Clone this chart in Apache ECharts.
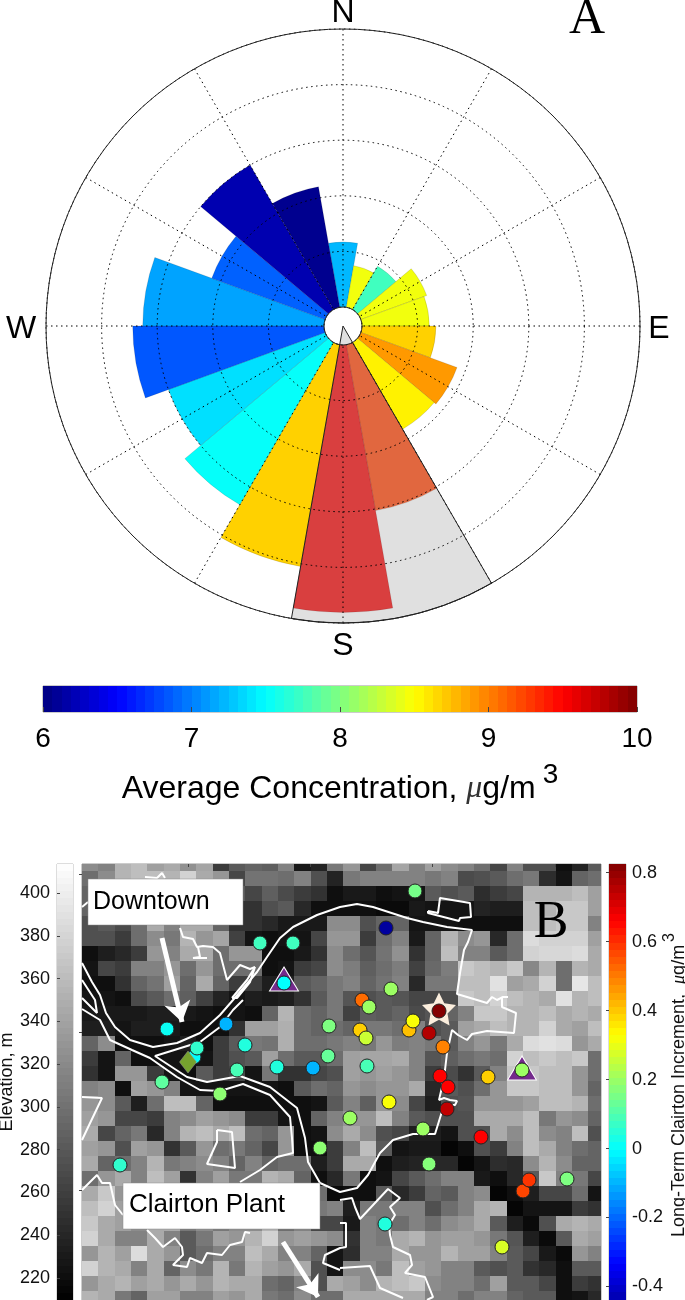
<!DOCTYPE html>
<html>
<head>
<meta charset="utf-8">
<title>Clairton wind rose and map</title>
<script src="https://cdn.jsdelivr.net/npm/echarts@6/dist/echarts.min.js"></script>
<style>
html, body { margin: 0; padding: 0; background: #fff; }
#chart { width: 685px; height: 1300px; }
</style>
</head>
<body>
<div id="chart"></div>
<script>
// panel A: one wedge every 20 degrees, clockwise from north
var wedgeDirections = [0, 20, 40, 60, 80, 100, 120, 140, 160, 180, 200, 220, 240, 260, 280, 300, 320, 340];
var wedgeRadius = [1.17, 0.76, 0.9, 1.26, 1.21, 1.33, 1.84, 1.8, 3.03, 4.81, 4.05, 3.37, 3.0, 3.44, 3.26, 2.17, 3.0, 2.2];
var wedgeConcentration = [7.22, 8.45, 7.75, 8.45, 8.45, 8.68, 8.9, 8.55, 9.25, 9.55, 8.68, 7.52, 7.38, 6.84, 7.14, 6.88, 6.19, 6.06];
var wedgesOverPlantSector = [160, 180];
var plantSector = [40, 320]; // degrees: plant direction, everything else

// panel B: elevation in m, per map cell, rows from the north
var elevationRows = [
    [322,314,354,362,338,346,326,342,258,282,290,286,314,230,238,306,330,266,298,342,314,338,322,314,298,266,314,274,274,222,238,282],
    [298,322,354,362,362,354,378,346,330,266,302,302,298,314,274,238,306,314,314,314,314,306,314,270,274,282,298,306,246,226,290,298],
    [290,322,330,338,330,330,330,330,306,282,266,286,270,258,250,222,230,230,222,226,226,282,274,282,246,258,266,354,354,354,362,338],
    [290,314,314,314,322,330,330,322,298,250,250,274,282,242,222,222,222,222,218,218,230,226,226,226,238,234,234,362,354,370,370,338],
    [274,282,270,298,346,314,346,346,290,250,250,242,230,230,230,322,322,274,290,290,226,226,226,222,222,222,222,362,362,370,370,314],
    [274,274,258,298,322,306,354,330,342,262,226,222,226,226,266,330,330,258,298,314,230,290,354,322,330,242,298,386,378,378,378,338],
    [222,234,242,258,330,314,346,346,298,330,330,222,222,230,250,322,298,278,302,326,250,290,362,314,314,282,298,378,382,382,386,346],
    [226,266,258,314,314,330,298,330,298,298,298,222,226,258,266,322,310,286,298,310,262,294,310,370,362,354,370,318,354,298,354,346],
    [222,222,250,290,302,338,290,346,290,258,258,234,234,282,290,306,314,290,302,314,242,306,306,362,362,390,338,346,378,298,394,362],
    [226,226,222,270,282,298,286,262,238,226,234,230,234,250,282,306,278,274,282,278,266,266,270,370,362,378,362,354,346,390,354,362],
    [230,230,230,230,234,234,230,226,222,226,222,290,354,298,290,306,262,286,282,290,270,278,290,314,370,370,354,354,362,346,354,346],
    [234,234,226,234,234,230,222,222,222,250,338,338,350,298,290,298,290,306,306,298,314,274,282,338,346,362,354,354,378,346,338,362],
    [290,322,222,222,222,226,234,222,258,282,306,302,350,298,298,306,314,306,330,310,314,306,282,314,330,306,346,386,390,386,330,346],
    [258,226,290,222,222,226,226,226,258,274,282,338,298,282,282,298,338,342,342,346,314,278,286,298,306,298,378,362,370,362,370,298],
    [250,226,330,330,258,226,222,282,258,266,226,306,250,250,266,274,338,330,338,330,314,258,270,250,282,314,370,370,362,362,330,298],
    [314,322,222,338,330,314,226,226,226,226,226,226,222,282,298,290,330,322,330,330,346,242,282,274,298,330,370,370,362,362,330,290],
    [330,322,282,234,298,362,362,290,222,222,222,222,222,222,226,282,314,286,330,322,266,234,274,278,330,330,330,338,362,362,354,298],
    [338,330,266,266,258,314,322,338,330,322,258,258,226,222,290,314,330,330,362,314,282,274,274,274,346,346,346,362,306,330,322,290],
    [346,266,290,306,242,314,354,362,346,362,298,290,330,222,226,322,346,322,274,266,234,234,226,274,274,346,322,362,322,314,362,274],
    [338,330,274,338,330,250,282,330,298,306,290,266,330,222,222,258,314,362,282,226,230,230,214,222,274,258,314,362,346,314,298,290],
    [346,290,298,314,354,306,314,322,314,290,314,290,298,298,234,258,346,346,222,234,238,242,242,214,226,246,242,322,354,322,290,290],
    [298,330,346,314,362,338,250,314,338,306,306,354,346,290,222,242,306,222,226,266,282,298,314,314,230,222,242,282,370,314,306,266],
    [346,370,330,354,330,330,330,330,306,306,306,306,330,330,298,218,222,222,282,242,258,290,282,314,322,214,222,234,266,266,298,226],
    [362,378,338,330,346,322,338,314,322,330,306,354,314,314,306,314,234,306,306,314,314,274,298,314,346,354,214,226,226,226,258,250],
    [370,346,338,322,346,346,306,322,306,322,322,354,298,314,266,266,230,314,306,298,314,298,322,330,346,282,234,218,274,346,354,346],
    [378,346,314,314,346,314,282,306,338,330,354,378,330,338,330,322,250,314,306,346,354,330,338,338,330,306,278,234,218,282,346,338],
    [330,354,338,386,346,330,282,298,314,314,362,346,314,314,290,226,246,314,314,346,330,330,354,338,338,314,282,266,230,218,330,314],
    [378,354,346,314,346,290,322,306,354,306,354,338,330,346,274,226,322,322,306,362,338,330,314,314,282,274,282,250,242,222,282,282],
    [330,346,354,338,346,330,346,330,354,346,346,298,290,314,274,346,338,322,354,362,370,322,314,314,298,338,282,282,266,222,258,250],
    [354,346,306,290,338,338,314,314,338,330,346,306,298,322,298,298,346,346,346,346,346,314,314,298,314,314,290,282,282,222,226,242]
];

// monitoring sites: map x, map y (from the north-west corner), increment in ug/m3
var sites = [
    [178,79,0.08],[211,79,0.08],[202,119,0.0],[85,165,0.01],[144,160,-0.1],[247,162,0.16],[163,181,0.04],
    [112,193,0.0],[115,184,0.06],[246,192,0.13],[155,206,0.09],[195,203,0.04],[231,204,-0.1],[80,218,0.12],
    [138,230,0.18],[238,284,0.18],[38,301,0.06],[333,27,0.15],[304,64,-0.46],[309,125,0.2],[280,136,0.52],
    [287,143,0.2],[278,166,0.39],[284,174,0.26],[327,166,0.41],[331,157,0.32],[357,147,0.82],[347,169,0.76],
    [361,183,0.49],[285,202,0.09],[358,212,0.66],[406,213,0.39],[440,206,0.2],[366,223,0.66],[307,238,0.32],
    [365,245,0.74],[268,254,0.2],[341,265,0.2],[399,273,0.66],[347,300,0.17],[441,327,0.57],[447,316,0.59],
    [485,315,0.16],[303,360,0.04],[420,383,0.28]
];
var triangleSites = [[202,115],[440,204]];
var starSite = [[357,145]];
var diamondSite = [[106,198]];

// rivers and borough boundaries, map x / map y
var riverNorth = [[0,99],[10,118],[18,131],[24,149],[33,163],[48,176],[71,183],[95,179],[118,169],[138,151],[151,136],[175,108],[185,93],[198,74],[211,63],[235,51],[258,43],[275,40],[291,43],[325,54],[341,58],[365,63],[390,66],[386,78],[382,86],[378,109],[375,130],[405,139],[410,133],[415,136],[421,133],[426,133]];
var eastBoundary = [[420,134],[420,143],[434,149],[432,169],[405,167],[390,170],[385,176],[376,171],[370,166],[365,189],[363,206],[360,223],[357,236],[362,234],[368,236],[375,237],[373,241],[362,241],[353,270],[331,270],[311,276],[298,289],[286,311],[275,324],[258,328],[238,319],[226,298],[223,274],[215,244],[188,223],[158,212],[125,218],[105,213],[73,192],[118,178],[138,163],[151,146],[161,136]];
var riverSouth = [[0,145],[18,156],[28,176],[50,186],[68,194],[95,213],[118,226],[138,227],[161,220],[188,231],[208,253],[210,274],[211,289],[195,293],[178,306],[158,318]];
var riverIsland = [[0,116],[13,136],[15,149],[0,134]];
var riverLens = [[150,134],[165,116],[173,103],[168,118],[155,134],[150,134]];
var downtownEdge = [[98,64],[101,73],[111,75],[115,83],[121,82],[131,83],[138,89],[145,116],[158,101],[168,105],[173,103]];
var downtownBox = [[116,83],[118,93],[111,94],[125,94]];
var downtownTop = [[63,13],[75,14],[80,9],[83,14]];
var downtownLeft = [[0,43],[6,38]];
var northEastBlock = [[346,47],[356,49],[358,34],[388,39],[389,53],[378,54],[377,57],[346,49],[346,47]];
var westBlock = [[0,233],[20,234],[0,276]];
var middleBlock = [[135,266],[150,268],[153,304],[125,300],[135,278],[135,266]];
var plantWest = [[0,326],[15,311],[20,319],[28,319],[33,341],[41,351]];
var plantSouth = [[65,366],[73,374],[81,383],[93,374],[100,383],[101,391],[91,401],[105,403],[108,394],[120,399],[125,389],[140,391],[148,381],[160,378],[163,368],[168,369]];
var southEdge = [[258,336],[270,334],[273,343],[278,355],[306,325],[318,334],[308,343],[313,351],[307,361],[308,371],[311,383],[328,391],[330,401],[323,409],[343,413],[351,433],[345,436]];
var southBlock = [[258,404],[288,402],[298,424],[321,434]];
var innerBlock = [[258,359],[264,359],[264,383],[258,384],[243,391],[241,399],[258,406]];
var boundaries = [riverNorth, eastBoundary, riverSouth, riverIsland, riverLens, downtownEdge, downtownBox, downtownTop, downtownLeft, northEastBlock, westBlock, middleBlock, plantWest, plantSouth, southEdge, southBlock, innerBlock];

var arrows = [
    [[80,74],[100,158]],
    [[201,378],[236,433]]
];

// scale ends
var concRange = [6, 10];
var elevRange = [209.7, 413.6];
var incrRange = [-0.5, 0.825];

var CELL_W = 16.33;
var CELL_H = 15;
var FONT = '"Liberation Sans", Arial, sans-serif';
var STAR = 'path://M50 0L64.7 29.8L97.6 34.5L73.8 57.7L79.4 90.5L50 75L20.6 90.5L26.2 57.7L2.4 34.5L35.3 29.8Z';

function clamp(v) {
    return Math.max(0, Math.min(1, v));
}

// matlab style jet, shade < 1 darkens it
function jet(t, shade) {
    var k = shade || 1;
    var r = clamp(Math.min(4 * t - 1.5, -4 * t + 4.5));
    var g = clamp(Math.min(4 * t - 0.5, -4 * t + 3.5));
    var b = clamp(Math.min(4 * t + 0.5, -4 * t + 2.5));
    return 'rgb(' + Math.round(r * 255 * k) + ',' + Math.round(g * 255 * k) + ',' + Math.round(b * 255 * k) + ')';
}

function scaled(v, range) {
    return (v - range[0]) / (range[1] - range[0]);
}

function grayOf(t) {
    var g = Math.round(clamp(t) * 255);
    return 'rgb(' + g + ',' + g + ',' + g + ')';
}

// 64 steps of a colorbar
function steps(range) {
    var out = [];
    for (var i = 0; i < 64; i++) {
        out.push([range[0] + (range[1] - range[0]) * i / 64, range[0] + (range[1] - range[0]) * (i + 1) / 64]);
    }
    return out;
}

function colorbarSeries(range, colorFn, gridIndex, horizontal) {
    return {
        type: 'custom',
        xAxisIndex: gridIndex,
        yAxisIndex: gridIndex,
        silent: true,
        clip: true,
        z: 1,
        data: steps(range),
        encode: horizontal ? { x: [0, 1] } : { y: [0, 1] },
        renderItem: function(params, api) {
            var c = params.coordSys;
            var lo = api.value(0);
            var hi = api.value(1);
            var shape;
            if (horizontal) {
                var x0 = Math.round(api.coord([lo, 0])[0]);
                var x1 = Math.round(api.coord([hi, 0])[0]);
                shape = { x: x0, y: c.y, width: x1 - x0, height: c.height };
            }
            else {
                var y0 = Math.round(api.coord([0, lo])[1]);
                var y1 = Math.round(api.coord([0, hi])[1]);
                shape = { x: c.x, y: y1, width: c.width, height: y0 - y1 };
            }
            return { type: 'rect', shape: shape, style: { fill: colorFn(scaled(lo + (hi - lo) / 2, range)) } };
        }
    };
}

var cells = [];
elevationRows.forEach(function(row, r) {
    row.forEach(function(e, c) {
        cells.push([c, r, e]);
    });
});

var series = [];

// plant direction sector, under the wedges
series.push({
    type: 'pie',
    center: [343, 326],
    radius: [0, 297],
    startAngle: 300,
    silent: true,
    z: 1,
    label: { show: false },
    labelLine: { show: false },
    data: [
        { value: plantSector[0], itemStyle: { color: '#e0e0e0' } },
        { value: plantSector[1], itemStyle: { color: 'rgba(0,0,0,0)' } }
    ]
});

series.push({
    type: 'bar',
    coordinateSystem: 'polar',
    polarIndex: 0,
    barWidth: '100%',
    barCategoryGap: '0%',
    silent: true,
    z: 2,
    data: wedgeRadius.map(function(r, i) {
        var over = wedgesOverPlantSector.indexOf(wedgeDirections[i]) >= 0;
        return {
            value: r,
            itemStyle: {
                color: jet(scaled(wedgeConcentration[i], concRange), over ? 0.88 : 1),
                opacity: over ? 0.72 : 1,
                borderColor: 'rgba(0,0,0,0.25)',
                borderWidth: 0.5
            }
        };
    })
});

// black outline of the sector goes over the wedges
series.push({
    type: 'pie',
    center: [343, 326],
    radius: [0, 297],
    startAngle: 300,
    silent: true,
    z: 6,
    label: { show: false },
    labelLine: { show: false },
    data: [
        { value: plantSector[0], itemStyle: { color: 'rgba(0,0,0,0)', borderColor: '#222', borderWidth: 1 } },
        { value: plantSector[1], itemStyle: { color: 'rgba(0,0,0,0)' } }
    ]
});

series.push(colorbarSeries(concRange, jet, 0, true));
series.push(colorbarSeries(elevRange, grayOf, 1, false));
series.push(colorbarSeries(incrRange, jet, 3, false));

// elevation cells
series.push({
    type: 'custom',
    xAxisIndex: 2,
    yAxisIndex: 2,
    silent: true,
    clip: true,
    z: 1,
    data: cells,
    encode: { x: 0, y: 1 },
    renderItem: function(params, api) {
        var x = api.value(0) * CELL_W;
        var y = api.value(1) * CELL_H - 8.33;
        var a = api.coord([x, y]);
        var b = api.coord([x + CELL_W, y + CELL_H]);
        var x0 = Math.round(a[0]);
        var y0 = Math.round(a[1]);
        return {
            type: 'rect',
            shape: { x: x0, y: y0, width: Math.round(b[0]) - x0, height: Math.round(b[1]) - y0 },
            style: { fill: grayOf(scaled(api.value(2), elevRange)) }
        };
    }
});

boundaries.forEach(function(line) {
    series.push({
        type: 'line',
        xAxisIndex: 2,
        yAxisIndex: 2,
        data: line,
        showSymbol: false,
        symbol: 'none',
        silent: true,
        z: 3,
        lineStyle: { color: '#fff', width: 2 }
    });
});

series.push({
    type: 'lines',
    coordinateSystem: 'cartesian2d',
    xAxisIndex: 2,
    yAxisIndex: 2,
    silent: true,
    z: 4,
    symbol: ['none', 'arrow'],
    symbolSize: 20,
    lineStyle: { color: '#fff', width: 5, opacity: 1, curveness: 0 },
    data: arrows.map(function(a) { return { coords: a }; })
});

series.push({
    type: 'scatter',
    xAxisIndex: 2,
    yAxisIndex: 2,
    silent: true,
    z: 5,
    symbol: 'triangle',
    symbolSize: [29, 24],
    itemStyle: { color: '#742a8c', borderColor: '#fff', borderWidth: 1, opacity: 1 },
    data: triangleSites
});

series.push({
    type: 'scatter',
    xAxisIndex: 2,
    yAxisIndex: 2,
    silent: true,
    z: 5,
    symbol: STAR,
    symbolSize: [34, 33],
    itemStyle: { color: '#fbeedd', opacity: 1 },
    data: starSite
});

series.push({
    type: 'scatter',
    xAxisIndex: 2,
    yAxisIndex: 2,
    silent: true,
    z: 6,
    symbolSize: 14,
    itemStyle: {
        color: function(p) { return jet(scaled(p.value[2], incrRange)); },
        borderColor: '#222',
        borderWidth: 1,
        opacity: 1
    },
    data: sites
});

series.push({
    type: 'scatter',
    xAxisIndex: 2,
    yAxisIndex: 2,
    silent: true,
    z: 7,
    symbol: 'diamond',
    symbolSize: [17, 22],
    itemStyle: { color: '#76a22e', borderColor: '#999', borderWidth: 0.5, opacity: 1 },
    data: diamondSite
});

var option = {
    animation: false,
    backgroundColor: '#fff',
    textStyle: { fontFamily: FONT },
    polar: [
        { center: [343, 326], radius: [19, 297] },
        { center: [343, 326], radius: [19, 297] }
    ],
    angleAxis: [
        {
            polarIndex: 0,
            type: 'category',
            data: wedgeDirections,
            startAngle: 100,
            boundaryGap: true,
            show: false
        },
        {
            polarIndex: 1,
            type: 'value',
            min: 0,
            max: 360,
            interval: 30,
            startAngle: 90,
            z: 5,
            axisLine: { show: true, lineStyle: { color: '#222', width: 1 } },
            axisTick: { show: false },
            axisLabel: { show: false },
            splitLine: { show: true, lineStyle: { color: '#000', width: 1, type: [1.5, 3.5] } }
        }
    ],
    radiusAxis: [
        { polarIndex: 0, type: 'value', min: 0, max: 5, show: false },
        {
            polarIndex: 1,
            type: 'value',
            min: 0,
            max: 5,
            interval: 1,
            z: 5,
            axisLine: { show: false },
            axisTick: { show: false },
            axisLabel: { show: false },
            splitLine: { show: true, lineStyle: { color: '#000', width: 1, type: [1.5, 3.5] } }
        }
    ],
    grid: [
        { left: 43, top: 686, width: 594, height: 26, show: true, borderColor: '#999', borderWidth: 1, outerBoundsMode: 'none' },
        { left: 57, top: 864, width: 16, height: 436, show: true, borderColor: '#bbb', borderWidth: 1, outerBoundsMode: 'none' },
        { left: 82, top: 864, width: 519, height: 436, show: true, borderColor: '#999', borderWidth: 1, outerBoundsMode: 'none' },
        { left: 609, top: 864, width: 17, height: 457, show: true, borderColor: '#bbb', borderWidth: 1, outerBoundsMode: 'none' }
    ],
    xAxis: [
        {
            gridIndex: 0,
            type: 'value',
            min: concRange[0],
            max: concRange[1],
            interval: 1,
            z: 5,
            axisLine: { show: false },
            axisTick: { show: true, inside: true, length: 5, lineStyle: { color: '#444' } },
            splitLine: { show: false },
            axisLabel: { color: '#000', fontSize: 28, margin: 13, fontFamily: FONT },
            nameLocation: 'middle',
            nameGap: 49,
            name: '{t|Average Concentration, }{mu|\u03bc}{t|g/m}{sup|3}',
            nameTextStyle: {
                rich: {
                    t: { fontSize: 32, fontFamily: FONT, color: '#000', verticalAlign: 'bottom' },
                    mu: { fontSize: 32, fontFamily: '"Liberation Serif"', fontStyle: 'italic', color: '#333', verticalAlign: 'bottom' },
                    sup: { fontSize: 28, fontFamily: FONT, color: '#000', padding: [0, 0, 16, 7], verticalAlign: 'bottom' }
                }
            }
        },
        { gridIndex: 1, type: 'value', min: 0, max: 1, show: false },
        {
            gridIndex: 2,
            type: 'value',
            min: 0,
            max: 519,
            position: 'top',
            z: 5,
            axisLine: { show: false },
            axisLabel: { show: false },
            splitLine: { show: false },
            axisTick: { show: true, inside: true, length: 3, customValues: [106, 228, 350, 473], lineStyle: { color: '#444' } }
        },
        { gridIndex: 3, type: 'value', min: 0, max: 1, show: false }
    ],
    yAxis: [
        { gridIndex: 0, type: 'value', min: 0, max: 1, show: false },
        {
            gridIndex: 1,
            type: 'value',
            min: elevRange[0],
            max: elevRange[1],
            position: 'left',
            z: 5,
            axisLine: { show: false },
            splitLine: { show: false },
            axisTick: { show: true, inside: true, length: 3, lineStyle: { color: '#444' }, customValues: [220, 240, 260, 280, 300, 320, 340, 360, 380, 400] },
            axisLabel: { color: '#111', fontSize: 18, margin: 7, fontFamily: FONT, customValues: [220, 240, 260, 280, 300, 320, 340, 360, 380, 400] },
            name: 'Elevation, m',
            nameLocation: 'middle',
            nameRotate: 90,
            nameGap: 39,
            nameTextStyle: { color: '#111', fontSize: 18, fontFamily: FONT }
        },
        {
            gridIndex: 2,
            type: 'value',
            min: 0,
            max: 436,
            inverse: true,
            position: 'right',
            z: 5,
            axisLine: { show: false },
            axisLabel: { show: false },
            splitLine: { show: false },
            axisTick: { show: true, inside: true, length: 3, customValues: [10, 168, 326], lineStyle: { color: '#444' } }
        },
        {
            gridIndex: 3,
            type: 'value',
            min: incrRange[0],
            max: incrRange[1],
            position: 'right',
            z: 5,
            axisLine: { show: false },
            splitLine: { show: false },
            axisTick: { show: true, inside: true, length: 3, lineStyle: { color: '#444' }, customValues: [-0.4, -0.2, 0, 0.2, 0.4, 0.6, 0.8] },
            axisLabel: {
                color: '#111',
                fontSize: 18,
                margin: 6,
                align: 'left',
                fontFamily: FONT,
                customValues: [-0.4, -0.2, 0, 0.2, 0.4, 0.6, 0.8],
                formatter: function(v) { return String(v); }
            }
        }
    ],
    series: series,
    graphic: [
        { type: 'text', z: 30, x: 343, y: 13, style: { text: 'N', fill: '#000', font: '32px "Liberation Sans"', textAlign: 'center', textVerticalAlign: 'middle' } },
        { type: 'text', z: 30, x: 343, y: 646, style: { text: 'S', fill: '#000', font: '32px "Liberation Sans"', textAlign: 'center', textVerticalAlign: 'middle' } },
        { type: 'text', z: 30, x: 21, y: 329, style: { text: 'W', fill: '#000', font: '32px "Liberation Sans"', textAlign: 'center', textVerticalAlign: 'middle' } },
        { type: 'text', z: 30, x: 659, y: 329, style: { text: 'E', fill: '#000', font: '32px "Liberation Sans"', textAlign: 'center', textVerticalAlign: 'middle' } },
        { type: 'text', z: 30, x: 587, y: 20, style: { text: 'A', fill: '#000', font: '50px "Liberation Serif"', textAlign: 'center', textVerticalAlign: 'middle' } },
        { type: 'text', z: 30, x: 551, y: 923, style: { text: 'B', fill: '#000', font: '52px "Liberation Serif"', textAlign: 'center', textVerticalAlign: 'middle' } },
        { type: 'rect', z: 20, shape: { x: 88, y: 879, width: 155, height: 46 }, style: { fill: '#fff', stroke: '#888', lineWidth: 0.5 } },
        { type: 'text', z: 21, x: 93, y: 902, style: { text: 'Downtown', fill: '#000', font: '25px "Liberation Sans"', textVerticalAlign: 'middle' } },
        { type: 'rect', z: 20, shape: { x: 123, y: 1183, width: 197, height: 46 }, style: { fill: '#fff', stroke: '#888', lineWidth: 0.5 } },
        { type: 'text', z: 21, x: 129, y: 1205, style: { text: 'Clairton Plant', fill: '#000', font: '26px "Liberation Sans"', textVerticalAlign: 'middle' } },
        {
            type: 'text',
            z: 21,
            x: 675,
            y: 1085,
            rotation: Math.PI / 2,
            style: {
                text: '{t|Long-Term Clairton Increment,  }{mu|\u03bc}{t|g/m}{sup|3}',
                textAlign: 'center',
                textVerticalAlign: 'middle',
                rich: {
                    t: { fontSize: 18, fontFamily: FONT, fill: '#111', verticalAlign: 'bottom' },
                    mu: { fontSize: 18, fontFamily: '"Liberation Serif"', fontStyle: 'italic', fill: '#111', verticalAlign: 'bottom' },
                    sup: { fontSize: 16, fontFamily: FONT, fill: '#111', padding: [0, 0, 10, 3], verticalAlign: 'bottom' }
                }
            }
        }
    ]
};

var myChart = echarts.init(document.getElementById('chart'));
myChart.setOption(option);
</script>
</body>
</html>
